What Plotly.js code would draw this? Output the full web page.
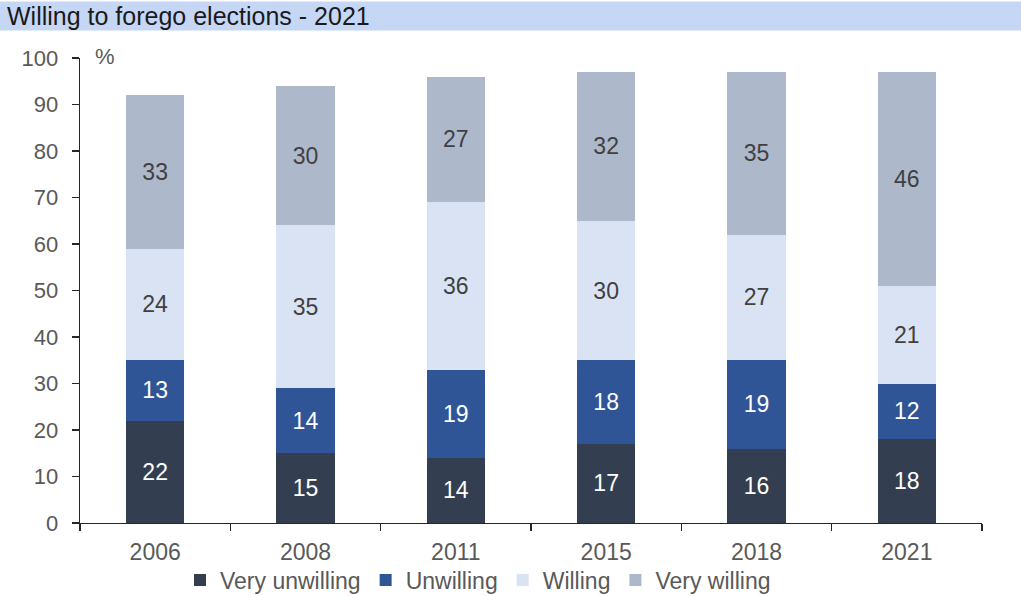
<!DOCTYPE html>
<html>
<head>
<meta charset="utf-8">
<script src="https://cdn.plot.ly/plotly-3.0.1.min.js"></script>
<style>html,body{margin:0;padding:0;background:#fff;}#chart{width:1021px;height:596px;}</style>
</head>
<body>
<div id="chart"></div>
<script>
const years = ['2006', '2008', '2011', '2015', '2018', '2021'];
const veryUnwilling = [22, 15, 14, 17, 16, 18];
const unwilling = [13, 14, 19, 18, 19, 12];
const willing = [24, 35, 36, 30, 27, 21];
const veryWilling = [33, 30, 27, 32, 35, 46];
const seriesNames = ['Very unwilling', 'Unwilling', 'Willing', 'Very willing'];
const seriesColors = ['#333f50', '#2f5597', '#dae3f3', '#adb9ca'];
const labelColors = ['#ffffff', '#ffffff', '#404040', '#404040'];
const seriesValues = [veryUnwilling, unwilling, willing, veryWilling];
const titleText = 'Willing to forego elections - 2021';
const unitText = '%';

const FONT = 'Arial, "Liberation Sans", sans-serif';
const W = 1021, H = 596;
const M = {l: 80, r: 39, t: 57.5, b: 72.5};
const pw = W - M.l - M.r, ph = H - M.t - M.b;

const traces = seriesValues.map((vals, i) => ({
  type: 'bar',
  name: seriesNames[i],
  x: years,
  y: vals,
  marker: {color: seriesColors[i], line: {width: 0}},
  text: vals.map(String),
  texttemplate: '%{text}',
  textposition: 'inside',
  insidetextanchor: 'middle',
  textangle: 0,
  constraintext: 'none',
  textfont: {family: FONT, size: 23, color: labelColors[i]},
  hoverinfo: 'x+y+name'
}));

const layout = {
  width: W, height: H,
  margin: M,
  paper_bgcolor: '#ffffff',
  plot_bgcolor: '#ffffff',
  barmode: 'stack',
  bargap: 0.61,
  showlegend: true,
  legend: {
    orientation: 'h',
    xref: 'container', yref: 'container',
    x: 180 / W, xanchor: 'left',
    y: (H - 580) / H, yanchor: 'middle',
    font: {family: FONT, size: 23, color: '#595959'},
    itemwidth: 30,
    tracegroupgap: 0,
    traceorder: 'normal',
    bgcolor: 'rgba(0,0,0,0)'
  },
  title: {
    text: titleText,
    x: 7 / W, xanchor: 'left', xref: 'container',
    y: 1 - 16 / H, yanchor: 'middle', yref: 'container',
    font: {family: FONT, size: 25, color: '#1a1a1a'}
  },
  xaxis: {
    type: 'category',
    showgrid: false,
    showline: true, linecolor: '#262626', linewidth: 1.3,
    ticks: 'outside', tickson: 'boundaries', ticklen: 7, tickcolor: '#262626', tickwidth: 1.3,
    ticklabelstandoff: 8,
    tickfont: {family: FONT, size: 23, color: '#595959'},
    zeroline: false,
    automargin: false,
    fixedrange: true
  },
  yaxis: {
    range: [0, 100],
    dtick: 10,
    showgrid: false,
    showline: true, linecolor: '#262626', linewidth: 1.3,
    ticks: 'outside', ticklen: 7, tickcolor: '#262626', tickwidth: 1.3,
    ticklabelstandoff: 9,
    tickfont: {family: FONT, size: 22, color: '#595959'},
    zeroline: false,
    automargin: false,
    fixedrange: true
  },
  shapes: [{
    type: 'rect', xref: 'paper', yref: 'paper', layer: 'below',
    x0: -M.l / pw, x1: 1 + M.r / pw,
    y0: 1 + (M.t - 30) / ph, y1: 1 + (M.t - 1) / ph,
    fillcolor: '#c6d7f6', line: {width: 0}
  }],
  annotations: [{
    text: unitText, xref: 'paper', yref: 'paper',
    x: (93 - M.l) / pw, xanchor: 'left',
    y: 1 + 2 / ph, yanchor: 'middle', showarrow: false,
    font: {family: FONT, size: 22, color: '#595959'}
  }]
};

Plotly.newPlot('chart', traces, layout, {displayModeBar: false, staticPlot: true});
</script>
</body>
</html>
